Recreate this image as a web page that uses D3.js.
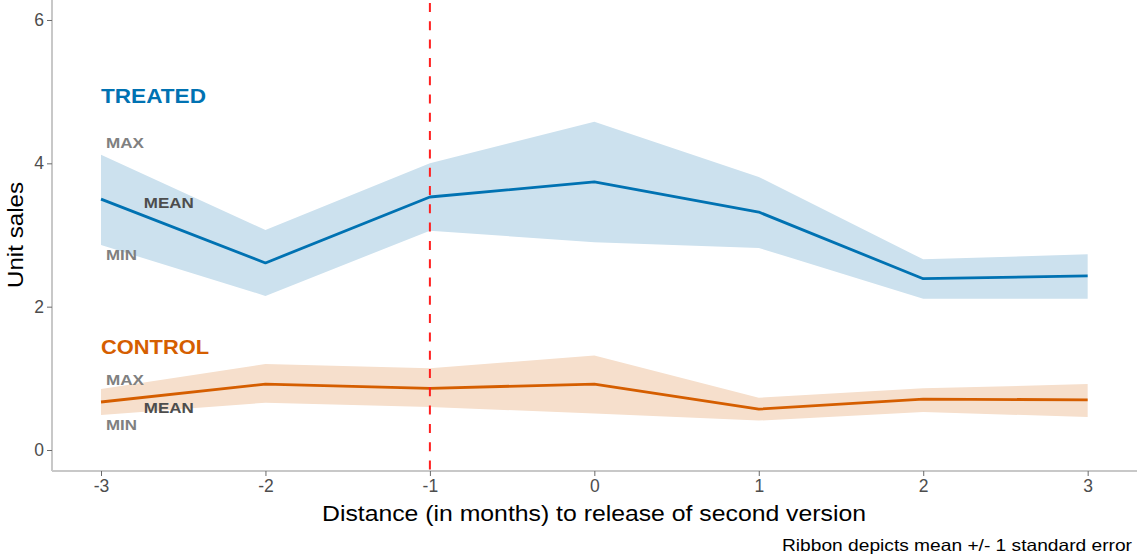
<!DOCTYPE html>
<html>
<head>
<meta charset="utf-8">
<script src="https://cdn.jsdelivr.net/npm/d3@7/dist/d3.min.js"></script>
<style>
  html, body { margin: 0; padding: 0; background: #fff; }
  svg { display: block; font-family: "Liberation Sans", Arial, sans-serif; }
</style>
</head>
<body>
<svg id="chart" width="1137" height="557"></svg>
<script>
// ---- data ----
const months = [-3, -2, -1, 0, 1, 2, 3];
const treatedMean  = [3.50, 2.61, 3.53, 3.74, 3.32, 2.39, 2.43];
const treatedUpper = [4.12, 3.07, 4.00, 4.58, 3.81, 2.66, 2.73];
const treatedLower = [2.86, 2.15, 3.06, 2.90, 2.82, 2.11, 2.11];
const controlMean  = [0.67, 0.92, 0.86, 0.92, 0.57, 0.71, 0.70];
const controlUpper = [0.85, 1.20, 1.14, 1.32, 0.73, 0.86, 0.92];
const controlLower = [0.49, 0.66, 0.60, 0.51, 0.41, 0.53, 0.46];
const xTicks = [-3, -2, -1, 0, 1, 2, 3];
const yTicks = [0, 2, 4, 6];
const releaseMonth = -1;

// annotation labels (in data units)
const groupLabels = [
  { text: "TREATED", x: -3, y: 4.95, color: "#0072B2", len: 105 },
  { text: "CONTROL", x: -3, y: 1.45, color: "#D55E00", len: 108 }
];
const statLabels = [
  { text: "MAX",  x: -2.97, y: 4.29, color: "#808080", len: 38 },
  { text: "MEAN", x: -2.74, y: 3.45, color: "#4d4d4d", len: 50 },
  { text: "MIN",  x: -2.97, y: 2.73, color: "#808080", len: 31 },
  { text: "MAX",  x: -2.97, y: 0.98, color: "#808080", len: 38 },
  { text: "MEAN", x: -2.74, y: 0.60, color: "#4d4d4d", len: 50 },
  { text: "MIN",  x: -2.97, y: 0.35, color: "#808080", len: 31 }
];

// ---- layout ----
const panel = { left: 52, right: 1137, top: 0, bottom: 471 };
const svg = d3.select("#chart");

const x = d3.scaleLinear().domain([-3.298, 3.30]).range([panel.left, panel.right]);
const y = d3.scaleLinear().domain([-0.293, 6.279]).range([panel.bottom, panel.top]);

const series = [
  { mean: treatedMean, lo: treatedLower, hi: treatedUpper, line: "#0072B2", fill: "#cce1ee" },
  { mean: controlMean, lo: controlLower, hi: controlUpper, line: "#D55E00", fill: "#f6dfcc" }
];

const area = d3.area().x(d => x(d.m)).y0(d => y(d.lo)).y1(d => y(d.hi));
const line = d3.line().x(d => x(d.m)).y(d => y(d.v));

series.forEach(s => {
  const rows = months.map((m, i) => ({ m, lo: s.lo[i], hi: s.hi[i] }));
  svg.append("path").attr("d", area(rows)).attr("fill", s.fill);
});
series.forEach(s => {
  const rows = months.map((m, i) => ({ m, v: s.mean[i] }));
  svg.append("path").attr("d", line(rows)).attr("fill", "none")
    .attr("stroke", s.line).attr("stroke-width", 2.8).attr("stroke-linejoin", "round");
});

// red dashed vertical line
svg.append("line")
  .attr("x1", x(releaseMonth)).attr("x2", x(releaseMonth))
  .attr("y1", panel.top).attr("y2", panel.bottom)
  .attr("stroke", "#ff1f1f").attr("stroke-width", 2)
  .attr("stroke-dasharray", "9,9.3").attr("stroke-dashoffset", -3);

// annotations
svg.selectAll("text.group").data(groupLabels).join("text")
  .attr("class", "group")
  .attr("x", d => x(d.x)).attr("y", d => y(d.y))
  .attr("dominant-baseline", "central")
  .attr("font-size", 20.5).attr("font-weight", "bold")
  .attr("textLength", d => d.len).attr("lengthAdjust", "spacingAndGlyphs")
  .attr("fill", d => d.color).text(d => d.text);

svg.selectAll("text.stat").data(statLabels).join("text")
  .attr("class", "stat")
  .attr("x", d => x(d.x)).attr("y", d => y(d.y))
  .attr("dominant-baseline", "central")
  .attr("font-size", 15).attr("font-weight", "bold")
  .attr("textLength", d => d.len).attr("lengthAdjust", "spacingAndGlyphs")
  .attr("fill", d => d.color).text(d => d.text);

// axes
const axisColor = "#c8c8c8";
const fmt = d => String(d);
const xAxis = d3.axisBottom(x).tickValues(xTicks).tickFormat(fmt).tickSize(5).tickPadding(4);
const gx = svg.append("g").attr("transform", `translate(0,${panel.bottom})`).call(xAxis);
gx.select(".domain").attr("stroke", axisColor).attr("stroke-width", 2)
  .attr("d", `M${panel.left},0H${panel.right}`);
gx.selectAll(".tick line").attr("stroke", "#6a6a6a").attr("stroke-width", 1);
gx.selectAll(".tick text").attr("font-size", 17.5).attr("fill", "#4d4d4d")
  .attr("font-family", "'Liberation Sans', Arial, sans-serif");

const yAxis = d3.axisLeft(y).tickValues(yTicks).tickFormat(fmt).tickSize(5).tickPadding(3);
const gy = svg.append("g").attr("transform", `translate(${panel.left},0)`).call(yAxis);
gy.select(".domain").attr("stroke", axisColor).attr("stroke-width", 2)
  .attr("d", `M0,${panel.top}V${panel.bottom}`);
gy.selectAll(".tick line").attr("stroke", "#6a6a6a").attr("stroke-width", 1);
gy.selectAll(".tick text").attr("font-size", 17.5).attr("fill", "#4d4d4d")
  .attr("font-family", "'Liberation Sans', Arial, sans-serif");

// titles
svg.append("text")
  .attr("x", 322).attr("y", 521)
  .attr("font-size", 22.5).attr("fill", "#000")
  .attr("textLength", 544).attr("lengthAdjust", "spacingAndGlyphs")
  .text("Distance (in months) to release of second version");

svg.append("text")
  .attr("transform", `translate(23,288) rotate(-90)`)
  .attr("font-size", 22.5).attr("fill", "#000")
  .attr("textLength", 106).attr("lengthAdjust", "spacingAndGlyphs")
  .text("Unit sales");

svg.append("text")
  .attr("x", 782).attr("y", 551)
  .attr("font-size", 16.5).attr("fill", "#000")
  .attr("textLength", 350).attr("lengthAdjust", "spacingAndGlyphs")
  .text("Ribbon depicts mean +/- 1 standard error");
</script>
</body>
</html>
